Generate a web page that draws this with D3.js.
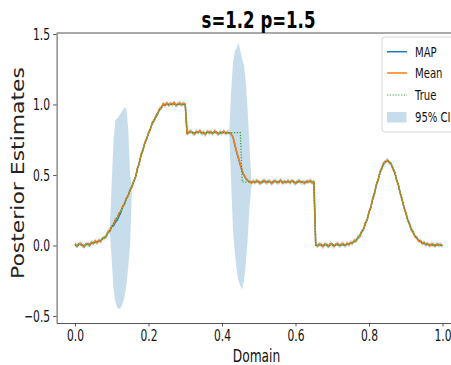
<!DOCTYPE html>
<html><head><meta charset="utf-8">
<script src="https://cdn.jsdelivr.net/npm/d3@7"></script>
<style>body{margin:0;background:#fff}svg{display:block}</style>
</head><body>
<svg id="c" width="451" height="365"></svg>
<script>
const titleText = "s=1.2 p=1.5";
const xLabelText = "Domain";
const yLabelText = "Posterior Estimates";
const xTicks = [0, 0.2, 0.4, 0.6, 0.8, 1.0];
const yTicks = [-0.5, 0, 0.5, 1.0, 1.5];
const legendNames = ["MAP", "Mean", "True", "95% CI"];
// sampling grid of the domain (201 points, step 0.005)
const domainX = d3.range(201).map(i => i / 200);

const trueVals = [0,0,0,0,0,
 .003,.005,.008,.011,.014,.018,.022,.027,.032,.038,.045,.055,.07,.09,.11,
 .13,.16,.18,.2,.225,.25,.27,.3,.33,.36,.39,.42,.45,.49,.54,.59,.64,.68,.72,.76,.79,.83,.86,.89,.91,.94,.96,.98,.995,
 1,1,1,1,1,1,1,1,1,1,1,1,
 .8,.8,.8,.8,.8,.8,.8,.8,.8,.8,.8,.8,.8,.8,.8,.8,.8,.8,.8,.8,.8,.8,.8,.8,.8,.8,.8,.8,.8,.8,
 .45,.45,.45,.45,.45,.45,.45,.45,.45,.45,.45,.45,.45,.45,.45,.45,.45,.45,.45,.45,
 .45,.45,.45,.45,.45,.45,.45,.45,.45,.45,.45,.45,.45,.45,.45,.45,.45,.45,.45,.45,
 0,0,0,0,0,0,0,0,0,0,0,0,0,0,0,
 .002,.004,.006,.009,.013,.019,.026,.037,.051,.069,.091,.118,.15,.187,.229,.275,.324,.374,.424,.471,.514,.55,.577,.594,.6,
 .594,.577,.55,.514,.471,.424,.374,.324,.275,.229,.187,.15,.118,.091,.069,.051,.037,.026,.019,.013,.009,.006,.004,.002,
 0,0,0,0,0,0];

const meanVals = [.012,-.004,.008,.015,-.002,-.006,.012,.006,.002,.024,.012,.034,.018,.038,.027,.054,.052,.065,.1,.102,
 .138,.152,.19,.195,.232,.243,.281,.295,.338,.352,.398,.414,.458,.485,.55,.582,.648,.673,.731,.752,
 .8,.822,.871,.882,.918,.932,.968,.975,1.006,.992,
 1.012,.993,1.009,.998,1.015,.99,1.006,1.011,.995,1.008,1.003,
 .79,.806,.812,.797,.789,.808,.801,.815,.794,.803,.786,.81,.798,.807,.792,.813,.8,.788,.805,.796,.811,.793,.804,
 .798,.788,.77,.72,.668,.62,.578,.532,.5,.476,.462,.455,
 .441,.457,.446,.462,.448,.439,.455,.463,.444,.451,.458,.437,.452,.46,.445,.449,.465,.441,.456,.447,
 .459,.443,.462,.45,.438,.454,.461,.446,.452,.44,.457,.449,.463,.443,.455,
 .008,-.006,.011,.003,-.009,.012,.002,-.004,.014,.006,-.007,.01,.013,-.003,.009,
 .012,-.004,.016,.005,.021,.014,.038,.03,.062,.064,.102,.11,.161,.18,.24,.268,.335,.368,.435,.463,
 .525,.545,.588,.59,.606,.588,.583,.541,.522,.462,.432,.366,.331,.268,.236,.18,.157,.111,.098,.061,
 .058,.03,.035,.012,.022,.003,.014,-.003,.01,
 .008,-.005,.011,.002,.007,-.004];

const mapVals = [.008,-.008,.01,.012,.002,-.01,.01,.01,-.002,.02,.016,.03,.02,.034,.03,.05,.056,.062,.095,.1,
 .135,.14,.165,.18,.21,.235,.275,.298,.334,.356,.394,.418,.455,.488,.546,.586,.644,.677,.727,.756,
 .796,.826,.867,.886,.914,.936,.964,.979,1.002,.996,
 1.008,.997,1.005,1.002,1.011,.994,1.002,1.007,.999,1.004,1.0,
 .794,.802,.808,.801,.793,.804,.805,.811,.798,.799,.79,.806,.802,.803,.796,.809,.804,.792,.801,.8,.807,.797,.8,
 .8,.79,.768,.71,.66,.615,.57,.525,.497,.474,.46,.452,
 .445,.453,.45,.458,.452,.443,.451,.459,.448,.455,.454,.441,.456,.456,.449,.453,.461,.445,.452,.451,
 .455,.447,.458,.454,.442,.45,.457,.45,.448,.444,.453,.453,.459,.447,.451,
 .004,-.002,.007,.007,-.005,.008,.006,-.008,.01,.01,-.003,.006,.009,.001,.005,
 .008,0,.012,.009,.017,.018,.034,.034,.058,.068,.098,.114,.157,.184,.236,.272,.331,.372,.431,.467,
 .521,.549,.584,.594,.602,.592,.579,.545,.518,.466,.428,.37,.327,.272,.232,.184,.153,.115,.094,.065,
 .054,.034,.031,.016,.018,.007,.01,.001,.006,
 .004,-.001,.007,.006,.003,0];

// 95% CI distance above / below the posterior mean
const ciAbove = [.016,.018,.015,.017,.019,.016,.015,.018,.017,.016,.019,.015,.017,.018,.016,.017,.015,.019,.018,
 .03,.31,.6,.7,.705,.688,.697,.679,.685,.632,.468,.102,.016,
 .016,.018,.015,.017,.019,.016,.015,.018,.017,.016, .017,.015,.019,.016,.018,.015,.017,.019,.016,.018,
 .015,.017,.016,.019,.015,.018,.016,.017,.019,.015, .016,.018,.015,.017,.019,.016,.015,.018,.017,.016,
 .017,.015,.019,.016,.018,.015,.017,.019,.016,.018, .016,.018,
 .022,.312,.53,.66,.732,.82,.802,.788,.78,.674,.488,.245,.019,
 .016,.018,.015,.017,.019,.016,.015,.018,.017,.016, .017,.015,.019,.016,.018,.015,.017,.019,.016,.018,
 .015,.017,.016,.019,.015,.018,.016,.017,.019,.015, .016,.018,.015,.017,.019,.016,.015,.018,.017,.016,
 .017,.015,.019,.016,.018,.015,.017,.019,.016,.018, .015,.017,.016,.019,.015,.018,.016,.017,.019,.015,
 .016,.018,.015,.017,.019,.016,.015,.018,.017,.016, .017,.015,.019,.016,.018,.015,.017,.019,.016,.018,
 .015,.017,.016,.019,.015,.018,.016,.017,.019,.015, .016,.018,.015,.017,.019,.016,.015,.018,.017,.016,
 .017,.015,.018,.016];

const ciBelow = [.017,.015,.018,.016,.015,.019,.017,.016,.018,.015,.016,.019,.017,.015,.018,.016,.019,.017,.015,
 .02,.24,.47,.59,.635,.682,.683,.691,.655,.618,.502,.398,.014,
 .017,.015,.019,.016,.018,.015,.017,.019,.016,.018, .015,.017,.016,.019,.015,.018,.016,.017,.019,.015,
 .016,.018,.015,.017,.019,.016,.015,.018,.017,.016, .017,.015,.019,.016,.018,.015,.017,.019,.016,.018,
 .015,.017,.016,.019,.015,.018,.016,.017,.019,.015, .017,.015,
 .018,.338,.67,.77,.848,.87,.868,.842,.75,.596,.412,.175,.021,
 .015,.017,.016,.019,.015,.018,.016,.017,.019,.015, .016,.018,.015,.017,.019,.016,.015,.018,.017,.016,
 .017,.015,.019,.016,.018,.015,.017,.019,.016,.018, .015,.017,.016,.019,.015,.018,.016,.017,.019,.015,
 .016,.018,.015,.017,.019,.016,.015,.018,.017,.016, .017,.015,.019,.016,.018,.015,.017,.019,.016,.018,
 .015,.017,.016,.019,.015,.018,.016,.017,.019,.015, .016,.018,.015,.017,.019,.016,.015,.018,.017,.016,
 .017,.015,.019,.016,.018,.015,.017,.019,.016,.018, .015,.017,.016,.019,.015,.018,.016,.017,.019,.015,
 .016,.018,.015,.017];

const C_MAP = "#1f77b4", C_MEAN = "#ff7f0e", C_TRUE = "#2ca02c", C_CI = "#1f77b4";
const FONT = "DejaVu Sans, sans-serif";

const svg = d3.select("#c");
svg.append("rect").attr("width", 451).attr("height", 365).attr("fill", "#fff");

const x = d3.scaleLinear().domain([-0.05, 1.05]).range([56.6, 460.9]);
const y = d3.scaleLinear().domain([-0.55, 1.507]).range([323, 33]);

const rows = domainX.map((d, i) => ({
  x: d, t: trueVals[i], m: meanVals[i], p: mapVals[i],
  lo: meanVals[i] - ciBelow[i], hi: meanVals[i] + ciAbove[i]
}));

const plot = svg.append("g");
plot.append("path").datum(rows)
  .attr("d", d3.area().x(d => x(d.x)).y0(d => y(d.lo)).y1(d => y(d.hi)))
  .attr("fill", C_CI).attr("fill-opacity", 0.25);

const ln = key => d3.line().x(d => x(d.x)).y(d => y(d[key]));
plot.append("path").datum(rows).attr("d", ln("p")).attr("fill", "none")
  .attr("stroke", C_MAP).attr("stroke-width", 1.5).attr("stroke-linejoin", "round");
plot.append("path").datum(rows).attr("d", ln("m")).attr("fill", "none")
  .attr("stroke", C_MEAN).attr("stroke-width", 1.5).attr("stroke-linejoin", "round");
plot.append("path").datum(rows).attr("d", ln("t")).attr("fill", "none")
  .attr("stroke", C_TRUE).attr("stroke-width", 1.2).attr("stroke-dasharray", "1.2,1.6");

// horizontally squeezed text (condensed look) via transform, so bounding boxes are real
function squeezeText(sel, k) {
  sel.each(function () {
    const t = d3.select(this);
    const x0 = +t.attr("x") || 0, y0 = +t.attr("y") || 0;
    t.attr("x", 0).attr("y", 0)
     .attr("transform", `translate(${x0},${y0}) scale(${k},1)`);
  });
}

// axes
const AX = "#555";
const gx = svg.append("g").attr("transform", "translate(0,323)")
  .call(d3.axisBottom(x).tickValues(xTicks).tickFormat(d3.format(".1f")).tickSize(3.5).tickSizeOuter(0));
const gy = svg.append("g").attr("transform", "translate(56.6,0)")
  .call(d3.axisLeft(y).tickValues(yTicks).tickFormat(d3.format(".1f")).tickSize(3.5).tickSizeOuter(0));
[gx, gy].forEach(g => {
  g.select(".domain").attr("stroke", AX);
  g.selectAll(".tick line").attr("stroke", AX);
  g.selectAll("text").attr("font-family", FONT).attr("font-size", 16).attr("fill", "#111");
});
squeezeText(gx.selectAll("text"), 0.67);
squeezeText(gy.selectAll("text"), 0.67);
svg.append("line").attr("x1", 56.6).attr("x2", 461).attr("y1", 33).attr("y2", 33).attr("stroke", AX);

// title and labels
const tt = svg.append("text").attr("x", 258.5).attr("y", 28).attr("text-anchor", "middle")
  .attr("font-family", FONT).attr("font-weight", "bold").attr("font-size", 23).attr("fill", "#000")
  .text(titleText);
squeezeText(tt, 0.72);
const xl = svg.append("text").attr("x", 256.5).attr("y", 361.5).attr("text-anchor", "middle")
  .attr("font-family", FONT).attr("font-size", 18).attr("fill", "#111").text(xLabelText);
squeezeText(xl, 0.68);
svg.append("text").attr("transform", "translate(24,173) rotate(-90)").attr("text-anchor", "middle")
  .attr("font-family", FONT).attr("font-size", 18.5).attr("fill", "#222")
  .attr("textLength", 212).attr("lengthAdjust", "spacingAndGlyphs").text(yLabelText);

// legend
const lg = svg.append("g");
lg.append("rect").attr("x", 382).attr("y", 37).attr("width", 90).attr("height", 95).attr("rx", 3)
  .attr("fill", "#fff").attr("fill-opacity", 0.8).attr("stroke", "#d6d6d6");
const ly = [51.7, 73, 95, 117];
const handles = [
  {c: C_MAP, dash: null}, {c: C_MEAN, dash: null}, {c: C_TRUE, dash: "1.2,1.6"}
];
handles.forEach((h, i) => {
  const l = lg.append("line").attr("x1", 387).attr("x2", 407).attr("y1", ly[i]).attr("y2", ly[i])
    .attr("stroke", h.c).attr("stroke-width", i === 2 ? 1.2 : 1.5);
  if (h.dash) l.attr("stroke-dasharray", h.dash);
});
lg.append("rect").attr("x", 387).attr("y", 112).attr("width", 19.5).attr("height", 10.5)
  .attr("fill", C_CI).attr("fill-opacity", 0.25);
const lt = lg.selectAll("text.lt").data(legendNames).join("text").attr("class", "lt")
  .attr("x", 415).attr("y", (d, i) => ly[i]).attr("dy", "0.36em")
  .attr("font-family", FONT).attr("font-size", 14).attr("fill", "#111").text(d => d);
squeezeText(lt, 0.72);
</script>
</body></html>
